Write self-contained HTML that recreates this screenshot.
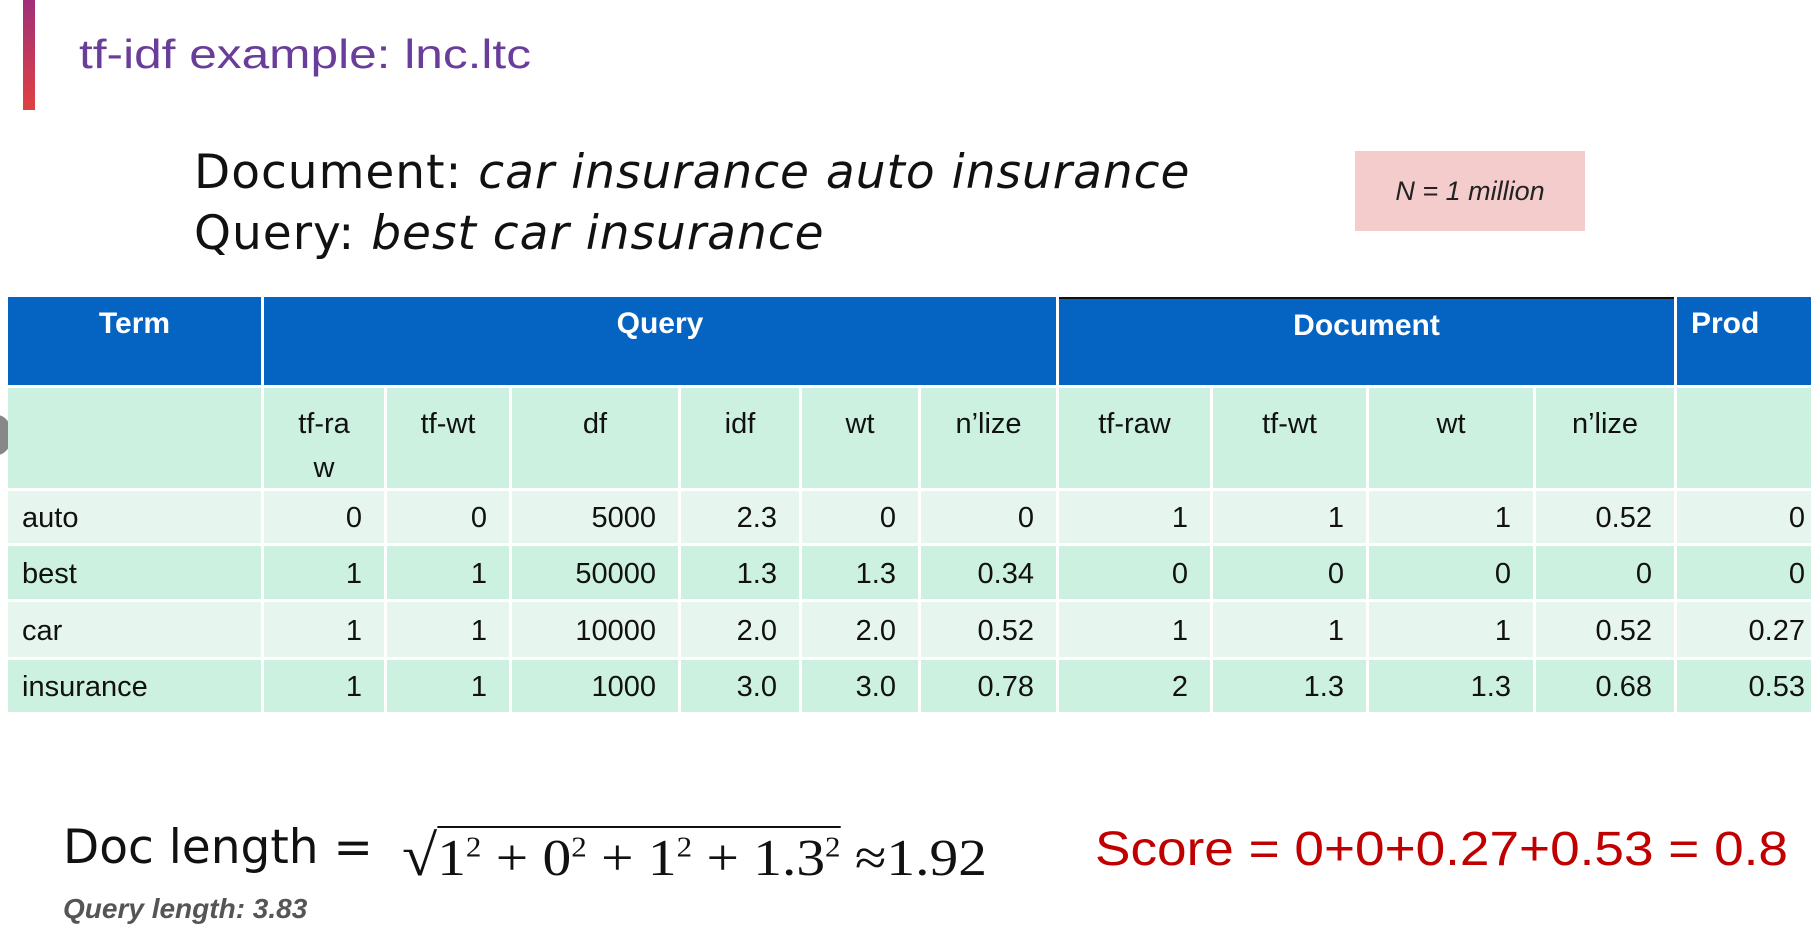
<!DOCTYPE html>
<html><head><meta charset="utf-8">
<style>
body{margin:0;width:1811px;height:929px;background:#fff;position:relative;overflow:hidden;font-family:"Liberation Sans",sans-serif;}
.abs{position:absolute;white-space:nowrap;}
.cell{position:absolute;box-sizing:border-box;font-size:29px;color:#111;}
.hdr{background:#0563c1;color:#fff;font-weight:bold;text-align:center;font-size:30px;}
</style></head><body>
<div class="abs" style="left:23px;top:0;width:12px;height:110px;background:linear-gradient(#a0307a,#e04040);"></div>
<div class="abs" id="title" style="left:79px;top:31px;font-size:41px;color:#6a3d9a;transform-origin:0 0;">tf-idf example: lnc.ltc</div>
<div class="abs" style="left:194px;top:145px;font-size:47px;color:#111;font-family:'DejaVu Sans',sans-serif;letter-spacing:1px;">Document: <i>car insurance auto insurance</i></div>
<div class="abs" style="left:194px;top:206px;font-size:47px;color:#111;font-family:'DejaVu Sans',sans-serif;letter-spacing:1px;">Query: <i>best car insurance</i></div>
<div class="abs" style="left:1355px;top:151px;width:230px;height:80px;background:#f4cccc;font-size:27px;font-style:italic;line-height:80px;text-align:center;color:#222;">N = 1 million</div>
<div class="abs" style="left:-18px;top:415px;width:30px;height:40px;border-radius:50%;background:#888;"></div>
<div id="table"></div>
<div class="abs" id="doclen" style="left:63px;top:820px;font-size:47px;color:#111;font-family:'DejaVu Sans',sans-serif;">Doc length =</div>
<div class="abs" id="formula" style="left:402px;top:822px;font-size:52px;color:#111;font-family:'Liberation Serif',serif;transform-origin:0 0;"><span style="font-size:58px">√</span><span style="border-top:2px solid #111;padding-top:2px">1<sup style="font-size:28px">2</sup> + 0<sup style="font-size:28px">2</sup> + 1<sup style="font-size:28px">2</sup> + 1.3<sup style="font-size:28px">2</sup></span> ≈1.92</div>
<div class="abs" id="score" style="left:1095px;top:822px;font-size:48px;color:#c00000;font-family:'Liberation Sans',sans-serif;transform-origin:0 0;">Score = 0+0+0.27+0.53 = 0.8</div>
<div class="abs" style="left:63px;top:893px;font-size:28px;color:#555;font-weight:bold;font-style:italic;">Query length: 3.83</div>
<script>
const terms=["auto","best","car","insurance"];
const subHeaders=["tf-ra<br>w","tf-wt","df","idf","wt","n’lize","tf-raw","tf-wt","wt","n’lize",""];
const qTfRaw=["0","1","1","1"];
const qTfWt=["0","1","1","1"];
const qDf=["5000","50000","10000","1000"];
const qIdf=["2.3","1.3","2.0","3.0"];
const qWt=["0","1.3","2.0","3.0"];
const qNorm=["0","0.34","0.52","0.78"];
const dTfRaw=["1","0","1","2"];
const dTfWt=["1","0","1","1.3"];
const dWt=["1","0","1","1.3"];
const dNorm=["0.52","0","0.52","0.68"];
const prod=["0","0","0.27","0.53"];
const cols=[8,264,387,512,681,802,921,1059,1213,1369,1536,1677,1830];
const rowsY=[491,546,602,660,715];
const t=document.getElementById('table');
function cell(x0,x1,y0,y1,html,cls,bg,align,name){
 const d=document.createElement('div');
 d.className='cell '+cls;
 d.style.left=x0+'px';d.style.top=y0+'px';d.style.width=(x1-x0-3)+'px';d.style.height=(y1-y0-3)+'px';
 if(bg)d.style.background=bg;
 d.style.textAlign=align;
 d.innerHTML=html;
 
 
 t.appendChild(d);return d;
}
let h;
h=cell(cols[0],cols[1],297,388,"Term","hdr",null,'center','header-term');h.style.paddingTop='10px';
h=cell(cols[1],cols[7],297,388,"Query","hdr",null,'center','header-query');h.style.paddingTop='10px';
h=cell(cols[7],cols[11],297,388,"Document","hdr",null,'center','header-document');h.style.paddingTop='10px';h.style.borderTop='2px solid #111';
h=cell(cols[11],cols[12],297,388,"Prod","hdr",null,'left','header-prod');h.style.paddingTop='10px';h.style.paddingLeft='14px';
h=cell(cols[0],cols[1],388,rowsY[0],"","", '#cdf1e0','left','subheader-term');
subHeaders.forEach((s,i)=>{const c=cell(cols[i+1],cols[i+2],388,rowsY[0],s,"",'#cdf1e0','center','subheader-col');c.style.paddingTop='14px';c.style.lineHeight='44px';});
const series=[qTfRaw,qTfWt,qDf,qIdf,qWt,qNorm,dTfRaw,dTfWt,dWt,dNorm,prod];
terms.forEach((term,r)=>{
 const bg=r%2===0?'#e6f6ee':'#cdf1e0';
 const y0=rowsY[r],y1=rowsY[r+1];
 const c=cell(cols[0],cols[1],y0,y1,term,"",bg,'left','term-cell');c.style.paddingLeft='14px';c.style.lineHeight=(y1-y0)+'px';
 series.forEach((s,i)=>{const d=cell(cols[i+1],cols[i+2],y0,y1,s[r],"",bg,'right','value-cell');d.style.paddingRight='22px';d.style.lineHeight=(y1-y0)+'px';});
});
function fit(id,w){const e=document.getElementById(id);const cw=e.getBoundingClientRect().width;e.style.transform='scaleX('+(w/cw)+')';}
fit('score',693);
fit('formula',585);
fit('title',452);
</script>
</body></html>
